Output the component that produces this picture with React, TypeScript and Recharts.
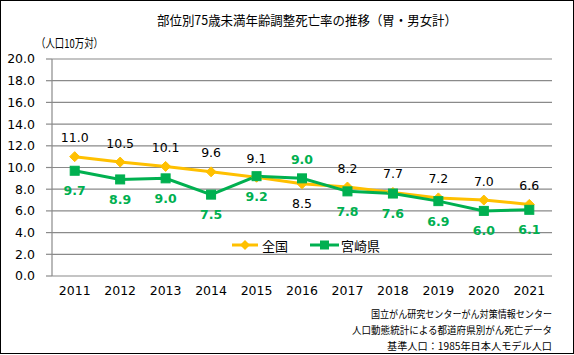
import React from 'react';
import { LineChart, Line, XAxis, YAxis, CartesianGrid, LabelList } from 'recharts';

const years = ['2011', '2012', '2013', '2014', '2015', '2016', '2017', '2018', '2019', '2020', '2021'];
const zenkoku = [11.0, 10.5, 10.1, 9.6, 9.1, 8.5, 8.2, 7.7, 7.2, 7.0, 6.6];
const miyazaki = [9.7, 8.9, 9.0, 7.5, 9.2, 9.0, 7.8, 7.6, 6.9, 6.0, 6.1];
const yTicks = [0, 2, 4, 6, 8, 10, 12, 14, 16, 18, 20];
const boundaryTicks = [0, 1, 2, 3, 4, 5, 6, 7, 8, 9, 10, 11];

const title = '部位別75歳未満年齢調整死亡率の推移（胃・男女計）';
const unitLabel = '（人口10万対）';
const notes = [
  '国立がん研究センターがん対策情報センター',
  '人口動態統計による都道府県別がん死亡データ',
  '基準人口：1985年日本人モデル人口',
];
const seriesNames = ['全国', '宮崎県'];

const data = years.map((y, i) => ({ year: y, zenkoku: zenkoku[i], miyazaki: miyazaki[i] }));

const GOLD = '#FFC000';
const GREEN = '#00B050';
const GRID = '#8A8A8A';
const NUM_FONT = '"DejaVu Sans", "Noto Sans CJK JP", sans-serif';
const JP_FONT = '"Noto Sans CJK JP", sans-serif';
const flipIndex = 5;

const DiamondDot = (props: any) => {
  const { cx, cy, index } = props;
  if (cx == null || cy == null) return <g key={`d${index}`} />;
  const r = 5;
  return (
    <polygon
      key={`d${index}`}
      points={`${cx},${cy - r} ${cx + r},${cy} ${cx},${cy + r} ${cx - r},${cy}`}
      fill={GOLD}
      stroke={GOLD}
    />
  );
};

const SquareDot = (props: any) => {
  const { cx, cy, index } = props;
  if (cx == null || cy == null) return <g key={`s${index}`} />;
  const s = 9;
  return <rect key={`s${index}`} x={cx - s / 2} y={cy - s / 2} width={s} height={s} fill={GREEN} stroke={GREEN} />;
};

const makeLabel = (color: string, above: boolean, bold: boolean) => (props: any) => {
  const { x, y, value, index } = props;
  const up = index === flipIndex ? !above : above;
  const dy = up ? -19 : 20;
  return (
    <text
      key={`l${index}`}
      x={x}
      y={y + dy}
      textAnchor="middle"
      dominantBaseline="central"
      fill={color}
      fontSize={12.5}
      fontWeight={bold ? 'bold' : 'normal'}
      fontFamily={NUM_FONT}
    >
      {Number(value).toFixed(1)}
    </text>
  );
};

export default function App() {
  return (
    <div
      style={{
        position: 'absolute',
        left: 0,
        top: 0,
        width: 574,
        height: 354,
        border: '1px solid #000',
        boxSizing: 'border-box',
        background: '#fff',
      }}
    >
      <div style={{ position: 'absolute', left: -1, top: -1 }}>
        <LineChart width={574} height={354} data={data} margin={{ top: 59, right: 22, left: 0, bottom: 48 }}>
          <CartesianGrid vertical={false} stroke={GRID} strokeWidth={1.2} />
          <XAxis
            xAxisId="b"
            type="number"
            domain={[0, 11]}
            ticks={boundaryTicks}
            height={0}
            tickSize={5}
            tickFormatter={() => ''}
            axisLine={{ stroke: GRID, strokeWidth: 1.2 }}
            tickLine={{ stroke: GRID, strokeWidth: 1.2 }}
          />
          <XAxis
            xAxisId="c"
            dataKey="year"
            height={30}
            padding={{ left: 22.7, right: 22.7 }}
            axisLine={false}
            tickLine={false}
            tickSize={0}
            tickMargin={10}
            interval={0}
            tick={{ fill: '#000', fontSize: 12.5, fontFamily: NUM_FONT }}
          />
          <YAxis
            width={52}
            domain={[0, 20]}
            ticks={yTicks}
            interval={0}
            tickSize={6}
            tickMargin={11}
            tickFormatter={(v: number) => v.toFixed(1)}
            axisLine={{ stroke: GRID, strokeWidth: 1.2 }}
            tickLine={{ stroke: GRID, strokeWidth: 1.2 }}
            tick={{ fill: '#000', fontSize: 12.5, fontFamily: NUM_FONT }}
          />
          <Line
            xAxisId="c"
            type="linear"
            dataKey="zenkoku"
            name={seriesNames[0]}
            stroke={GOLD}
            strokeWidth={3}
            dot={DiamondDot}
            activeDot={false}
            isAnimationActive={false}
          >
            <LabelList dataKey="zenkoku" content={makeLabel('#000', true, false)} />
          </Line>
          <Line
            xAxisId="c"
            type="linear"
            dataKey="miyazaki"
            name={seriesNames[1]}
            stroke={GREEN}
            strokeWidth={3}
            dot={SquareDot}
            activeDot={false}
            isAnimationActive={false}
          >
            <LabelList dataKey="miyazaki" content={makeLabel(GREEN, false, true)} />
          </Line>
        </LineChart>
      </div>
      <svg
        width={574}
        height={354}
        style={{ position: 'absolute', left: -1, top: -1, pointerEvents: 'none' }}
      >
        <text
          x={157}
          y={19}
          dominantBaseline="central"
          fontSize={13}
          fontFamily={JP_FONT}
          fill="#000"
          textLength={300}
          lengthAdjust="spacingAndGlyphs"
        >
          {title}
        </text>
        <text
          x={36}
          y={42}
          dominantBaseline="central"
          fontSize={12}
          fontFamily={JP_FONT}
          fill="#000"
          textLength={67}
          lengthAdjust="spacingAndGlyphs"
        >
          {unitLabel}
        </text>
        {/* legend */}
        <g>
          <line x1={232} y1={245} x2={258} y2={245} stroke={GOLD} strokeWidth={3} />
          <polygon points="245,240 250,245 245,250 240,245" fill={GOLD} />
          <text x={262} y={245} dominantBaseline="central" fontSize={13} fontFamily={JP_FONT} fill="#000">
            {seriesNames[0]}
          </text>
          <line x1={310} y1={245} x2={339} y2={245} stroke={GREEN} strokeWidth={3} />
          <rect x={320} y={240.5} width={9} height={9} fill={GREEN} />
          <text x={341} y={245} dominantBaseline="central" fontSize={13} fontFamily={JP_FONT} fill="#000">
            {seriesNames[1]}
          </text>
        </g>
        {notes.map((t, i) => {
          const widths = [181, 200, 165];
          return (
            <text
              key={i}
              x={552 - widths[i]}
              y={313 + i * 16}
              textAnchor="start"
              dominantBaseline="central"
              fontSize={10}
              fontFamily={JP_FONT}
              fill="#000"
              textLength={widths[i]}
              lengthAdjust="spacingAndGlyphs"
            >
              {t}
            </text>
          );
        })}
      </svg>
    </div>
  );
}
